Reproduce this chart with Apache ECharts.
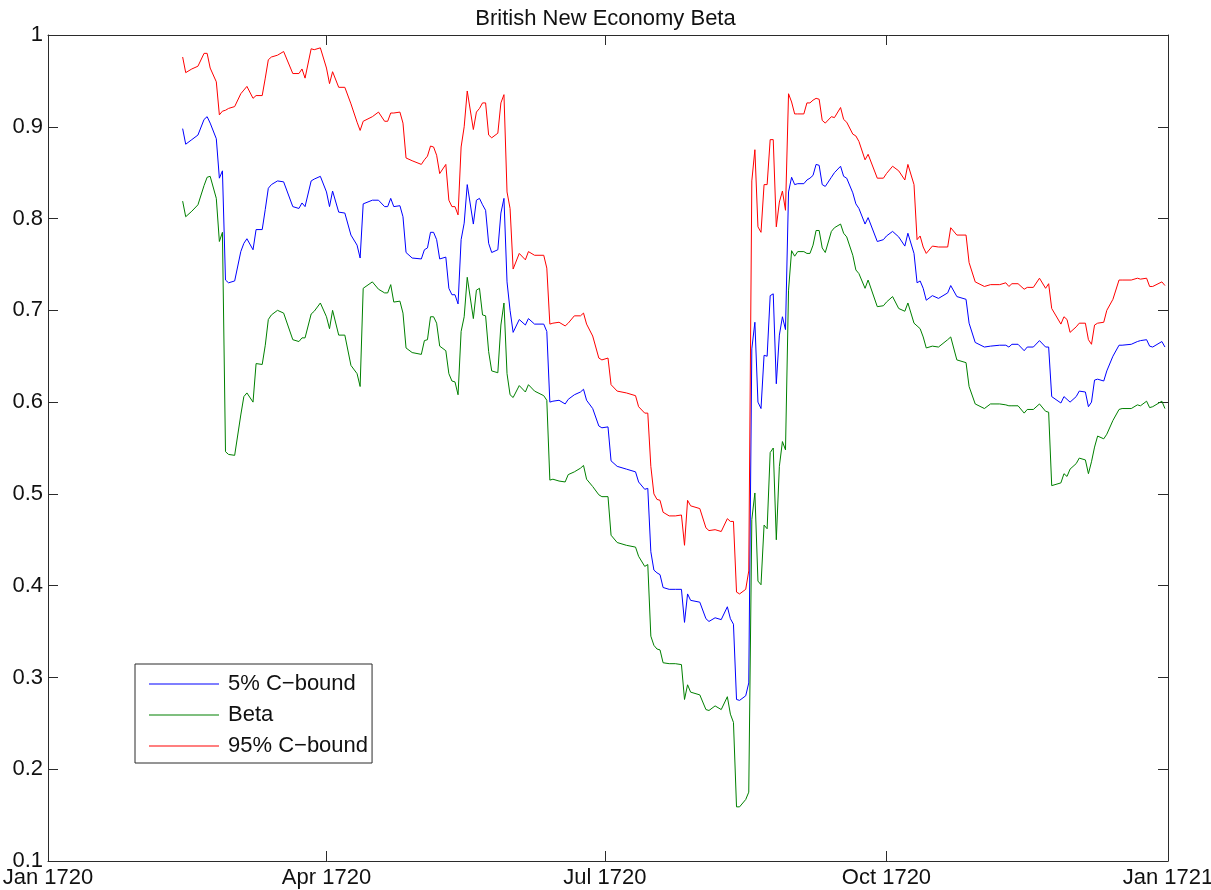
<!DOCTYPE html>
<html lang="en">
<head>
<meta charset="utf-8">
<title>British New Economy Beta</title>
<script src="https://cdn.jsdelivr.net/npm/echarts@6/dist/echarts.min.js"></script>
<style>
  html, body { margin: 0; padding: 0; background: #fff; }
  #chart { width: 1211px; height: 890px; }
</style>
</head>
<body>
<div id="chart"></div>
<script>
// trading days, 1720
var dates = [
  '1720-02-14','1720-02-15','1720-02-17','1720-02-19','1720-02-21','1720-02-22','1720-02-23','1720-02-25','1720-02-26','1720-02-27',
  '1720-02-28','1720-02-29','1720-03-02','1720-03-04','1720-03-05','1720-03-06','1720-03-08','1720-03-09','1720-03-11','1720-03-12',
  '1720-03-13','1720-03-14','1720-03-16','1720-03-18','1720-03-21','1720-03-23','1720-03-24','1720-03-25','1720-03-27','1720-03-28',
  '1720-03-30','1720-04-01','1720-04-02','1720-04-03','1720-04-05','1720-04-07','1720-04-09','1720-04-11','1720-04-12','1720-04-13',
  '1720-04-16','1720-04-18','1720-04-20','1720-04-21','1720-04-22','1720-04-23','1720-04-25','1720-04-26','1720-04-27','1720-04-29',
  '1720-05-02','1720-05-03','1720-05-04','1720-05-05','1720-05-06','1720-05-07','1720-05-08','1720-05-10','1720-05-11','1720-05-12',
  '1720-05-13','1720-05-14','1720-05-15','1720-05-16','1720-05-17','1720-05-19','1720-05-20','1720-05-21','1720-05-22','1720-05-23',
  '1720-05-24','1720-05-25','1720-05-27','1720-05-28','1720-05-29','1720-05-30','1720-05-31','1720-06-01','1720-06-03','1720-06-05',
  '1720-06-06','1720-06-08','1720-06-11','1720-06-12','1720-06-13','1720-06-14','1720-06-16','1720-06-18','1720-06-19','1720-06-21',
  '1720-06-23','1720-06-24','1720-06-25','1720-06-27','1720-06-29','1720-06-30','1720-07-02','1720-07-03','1720-07-05','1720-07-08',
  '1720-07-11','1720-07-12','1720-07-14','1720-07-15','1720-07-16','1720-07-17','1720-07-18','1720-07-19','1720-07-20','1720-07-22',
  '1720-07-24','1720-07-26','1720-07-27','1720-07-28','1720-07-29','1720-08-01','1720-08-03','1720-08-04','1720-08-06','1720-08-08',
  '1720-08-10','1720-08-11','1720-08-12','1720-08-13','1720-08-14','1720-08-16','1720-08-17','1720-08-18','1720-08-19','1720-08-20',
  '1720-08-21','1720-08-22','1720-08-23','1720-08-24','1720-08-25','1720-08-26','1720-08-27','1720-08-28','1720-08-29','1720-08-30',
  '1720-08-31','1720-09-01','1720-09-02','1720-09-04','1720-09-05','1720-09-06','1720-09-07','1720-09-08','1720-09-09','1720-09-10',
  '1720-09-11','1720-09-13','1720-09-14','1720-09-16','1720-09-17','1720-09-18','1720-09-20','1720-09-21','1720-09-22','1720-09-24',
  '1720-09-25','1720-09-28','1720-09-30','1720-10-01','1720-10-03','1720-10-05','1720-10-07','1720-10-08','1720-10-10','1720-10-11',
  '1720-10-12','1720-10-13','1720-10-14','1720-10-16','1720-10-18','1720-10-21','1720-10-22','1720-10-24','1720-10-27','1720-10-28',
  '1720-10-30','1720-11-02','1720-11-04','1720-11-07','1720-11-09','1720-11-10','1720-11-11','1720-11-13','1720-11-15','1720-11-16',
  '1720-11-18','1720-11-20','1720-11-22','1720-11-23','1720-11-24','1720-11-27','1720-11-28','1720-11-29','1720-11-30','1720-12-02',
  '1720-12-03','1720-12-05','1720-12-06','1720-12-07','1720-12-08','1720-12-09','1720-12-11','1720-12-12','1720-12-14','1720-12-16',
  '1720-12-17','1720-12-20','1720-12-22','1720-12-23','1720-12-25','1720-12-26','1720-12-27','1720-12-30','1720-12-31'
];

// 5% C-bound
var lowerBound = [
  0.898,0.881,0.886,0.891,0.908,0.911,0.904,0.887,0.844,0.852,
  0.733,0.730,0.732,0.764,0.773,0.778,0.766,0.788,0.788,0.810,
  0.833,0.837,0.841,0.840,0.813,0.811,0.817,0.813,0.841,0.843,
  0.846,0.829,0.813,0.830,0.807,0.806,0.782,0.771,0.757,0.816,
  0.820,0.820,0.813,0.813,0.822,0.813,0.814,0.802,0.763,0.757,
  0.756,0.766,0.768,0.785,0.785,0.777,0.756,0.758,0.724,0.717,
  0.717,0.707,0.777,0.795,0.837,0.794,0.820,0.822,0.815,0.809,
  0.773,0.763,0.766,0.806,0.822,0.731,0.700,0.676,0.690,0.684,
  0.691,0.685,0.685,0.677,0.600,0.601,0.602,0.598,0.603,0.608,
  0.611,0.614,0.602,0.593,0.574,0.572,0.573,0.536,0.530,0.527,
  0.524,0.513,0.505,0.506,0.437,0.417,0.414,0.412,0.398,0.396,
  0.396,0.396,0.360,0.391,0.384,0.382,0.364,0.361,0.365,0.363,
  0.377,0.364,0.358,0.276,0.275,0.280,0.294,0.658,0.687,0.600,
  0.593,0.651,0.650,0.716,0.718,0.620,0.673,0.693,0.679,0.829,
  0.845,0.837,0.838,0.838,0.842,0.844,0.847,0.859,0.858,0.837,
  0.835,0.845,0.850,0.857,0.846,0.844,0.828,0.816,0.811,0.794,
  0.801,0.775,0.777,0.781,0.786,0.780,0.770,0.784,0.762,0.730,
  0.732,0.724,0.711,0.716,0.713,0.719,0.727,0.715,0.712,0.686,
  0.665,0.660,0.661,0.662,0.662,0.660,0.663,0.663,0.656,0.660,
  0.660,0.667,0.660,0.660,0.606,0.599,0.606,0.603,0.600,0.606,
  0.612,0.611,0.595,0.600,0.624,0.625,0.623,0.634,0.650,0.662,
  0.662,0.663,0.666,0.667,0.668,0.661,0.660,0.666,0.660
];

var beta = [
  0.819,0.802,0.808,0.815,0.836,0.845,0.846,0.822,0.775,0.785,
  0.546,0.543,0.542,0.586,0.606,0.610,0.600,0.642,0.641,0.662,
  0.690,0.695,0.700,0.697,0.668,0.666,0.670,0.670,0.696,0.699,
  0.708,0.693,0.680,0.700,0.673,0.673,0.640,0.631,0.617,0.724,
  0.731,0.723,0.719,0.719,0.728,0.709,0.710,0.697,0.659,0.654,
  0.652,0.667,0.668,0.693,0.693,0.686,0.661,0.656,0.631,0.623,
  0.622,0.608,0.677,0.693,0.736,0.691,0.722,0.724,0.695,0.694,
  0.655,0.634,0.632,0.684,0.708,0.631,0.608,0.605,0.618,0.611,
  0.619,0.612,0.607,0.602,0.515,0.516,0.514,0.513,0.521,0.524,
  0.528,0.531,0.516,0.508,0.499,0.497,0.497,0.455,0.447,0.444,
  0.442,0.432,0.421,0.423,0.345,0.335,0.331,0.330,0.316,0.315,
  0.315,0.314,0.276,0.292,0.284,0.281,0.265,0.264,0.269,0.265,
  0.279,0.260,0.251,0.159,0.159,0.167,0.175,0.472,0.501,0.405,
  0.401,0.466,0.462,0.545,0.550,0.450,0.530,0.557,0.548,0.722,
  0.765,0.759,0.764,0.764,0.762,0.762,0.771,0.787,0.787,0.768,
  0.763,0.786,0.790,0.794,0.784,0.780,0.760,0.744,0.740,0.724,
  0.733,0.704,0.705,0.709,0.715,0.702,0.699,0.708,0.686,0.683,
  0.680,0.671,0.659,0.661,0.660,0.668,0.671,0.646,0.643,0.617,
  0.598,0.593,0.598,0.598,0.597,0.596,0.596,0.596,0.588,0.592,
  0.592,0.598,0.590,0.589,0.509,0.512,0.522,0.519,0.527,0.533,
  0.539,0.537,0.522,0.535,0.551,0.563,0.560,0.565,0.580,0.592,
  0.593,0.593,0.597,0.596,0.601,0.594,0.595,0.601,0.593
];

// 95% C-bound
var upperBound = [
  0.976,0.959,0.963,0.966,0.980,0.980,0.964,0.949,0.913,0.917,
  0.918,0.920,0.922,0.936,0.940,0.944,0.931,0.934,0.934,0.953,
  0.973,0.976,0.978,0.982,0.958,0.958,0.963,0.953,0.985,0.984,
  0.986,0.964,0.947,0.960,0.943,0.943,0.925,0.905,0.896,0.906,
  0.911,0.916,0.906,0.906,0.915,0.915,0.916,0.904,0.866,0.863,
  0.859,0.864,0.868,0.879,0.878,0.869,0.849,0.859,0.820,0.813,
  0.813,0.804,0.878,0.900,0.939,0.897,0.916,0.920,0.926,0.926,
  0.891,0.888,0.893,0.926,0.935,0.829,0.811,0.745,0.762,0.755,
  0.764,0.760,0.760,0.746,0.685,0.686,0.687,0.683,0.686,0.694,
  0.694,0.697,0.685,0.672,0.648,0.646,0.648,0.619,0.612,0.610,
  0.607,0.595,0.588,0.588,0.530,0.500,0.494,0.493,0.480,0.476,
  0.476,0.477,0.444,0.493,0.487,0.484,0.463,0.460,0.461,0.459,
  0.473,0.470,0.470,0.393,0.391,0.396,0.416,0.841,0.875,0.791,
  0.785,0.837,0.837,0.886,0.886,0.791,0.818,0.830,0.809,0.936,
  0.927,0.914,0.914,0.914,0.926,0.926,0.929,0.931,0.930,0.907,
  0.904,0.911,0.910,0.921,0.908,0.905,0.892,0.890,0.884,0.864,
  0.870,0.844,0.844,0.849,0.857,0.852,0.842,0.859,0.837,0.777,
  0.781,0.769,0.762,0.770,0.769,0.769,0.790,0.782,0.782,0.752,
  0.731,0.726,0.728,0.728,0.730,0.726,0.729,0.729,0.723,0.725,
  0.725,0.735,0.724,0.729,0.702,0.685,0.693,0.690,0.676,0.682,
  0.686,0.686,0.668,0.663,0.684,0.686,0.687,0.700,0.712,0.733,
  0.733,0.733,0.735,0.734,0.735,0.726,0.726,0.731,0.727
];

var xTicks = ['1720-01-01', '1720-04-01', '1720-07-01', '1720-10-01', '1721-01-01'];
var monthNames = ['Jan','Feb','Mar','Apr','May','Jun','Jul','Aug','Sep','Oct','Nov','Dec'];

var fontFamily = '"Liberation Sans", Arial, sans-serif';
var axisColor = '#2b2b2b';

function toTime(s) {
  return echarts.time.parse(s).getTime();
}
function pairs(values) {
  return dates.map(function (d, i) { return [toTime(d), values[i]]; });
}

var tickTimes = xTicks.map(toTime);
var xMin = tickTimes[0];
var xMax = tickTimes[tickTimes.length - 1];

var myChart = echarts.init(document.getElementById('chart'), null, { renderer: 'canvas' });

// dates are plotted as timestamps on a value axis so the quarter ticks can be placed exactly
var xAxisBase = {
  type: 'value',
  min: xMin,
  max: xMax,
  scale: true,
  splitLine: { show: false },
  axisLine: { show: true, onZero: false, lineStyle: { color: axisColor, width: 1 } },
  axisTick: { show: true, inside: true, length: 10, customValues: tickTimes, lineStyle: { color: axisColor } }
};
var yAxisBase = {
  type: 'value',
  min: 0.1,
  max: 1,
  interval: 0.1,
  splitLine: { show: false },
  axisLine: { show: true, onZero: false, lineStyle: { color: axisColor, width: 1 } },
  axisTick: { show: true, inside: true, length: 10, lineStyle: { color: axisColor } }
};

var option = {
  animation: false,
  backgroundColor: '#fff',
  textStyle: { fontFamily: fontFamily },
  title: {
    text: 'British New Economy Beta',
    left: 'center',
    top: 3,
    textStyle: { fontFamily: fontFamily, fontSize: 22, fontWeight: 'normal', color: '#111' }
  },
  grid: {
    left: 48, right: 43, top: 35, bottom: 29,
    containLabel: false,
    outerBoundsMode: 'none'
  },
  legend: {
    orient: 'vertical',
    left: 135,
    top: 664,
    backgroundColor: '#fff',
    borderColor: axisColor,
    borderWidth: 1,
    padding: [9, 4, 6, 14],
    itemWidth: 70,
    itemHeight: 1,
    itemGap: 9,
    icon: 'rect',
    textStyle: { fontFamily: fontFamily, fontSize: 22, color: '#111', padding: [0, 0, 0, 4] },
    data: ['5% C\u2212bound', 'Beta', '95% C\u2212bound']
  },
  xAxis: [
    Object.assign({}, xAxisBase, {
      position: 'bottom',
      axisLabel: {
        show: true,
        margin: 6,
        fontSize: 22,
        fontFamily: fontFamily,
        color: '#111',
        customValues: tickTimes,
        formatter: function (val) {
          var d = new Date(val);
          return monthNames[d.getMonth()] + ' ' + d.getFullYear();
        }
      }
    }),
    Object.assign({}, xAxisBase, {
      position: 'top',
      axisLabel: { show: false }
    })
  ],
  yAxis: [
    Object.assign({}, yAxisBase, {
      position: 'left',
      axisLabel: {
        show: true,
        margin: 5,
        fontSize: 22,
        fontFamily: fontFamily,
        color: '#111',
        formatter: function (v) { return String(Math.round(v * 10) / 10); }
      }
    }),
    Object.assign({}, yAxisBase, {
      position: 'right',
      axisLabel: { show: false }
    })
  ],
  series: [
    {
      name: '5% C\u2212bound',
      type: 'line',
      data: pairs(lowerBound),
      symbol: 'none',
      showSymbol: false,
      color: '#0000ff',
      lineStyle: { width: 1, color: '#0000ff' }
    },
    {
      name: 'Beta',
      type: 'line',
      data: pairs(beta),
      symbol: 'none',
      showSymbol: false,
      color: '#008000',
      lineStyle: { width: 1, color: '#008000' }
    },
    {
      name: '95% C\u2212bound',
      type: 'line',
      data: pairs(upperBound),
      symbol: 'none',
      showSymbol: false,
      color: '#ff0000',
      lineStyle: { width: 1, color: '#ff0000' }
    }
  ]
};

myChart.setOption(option);
</script>
</body>
</html>
